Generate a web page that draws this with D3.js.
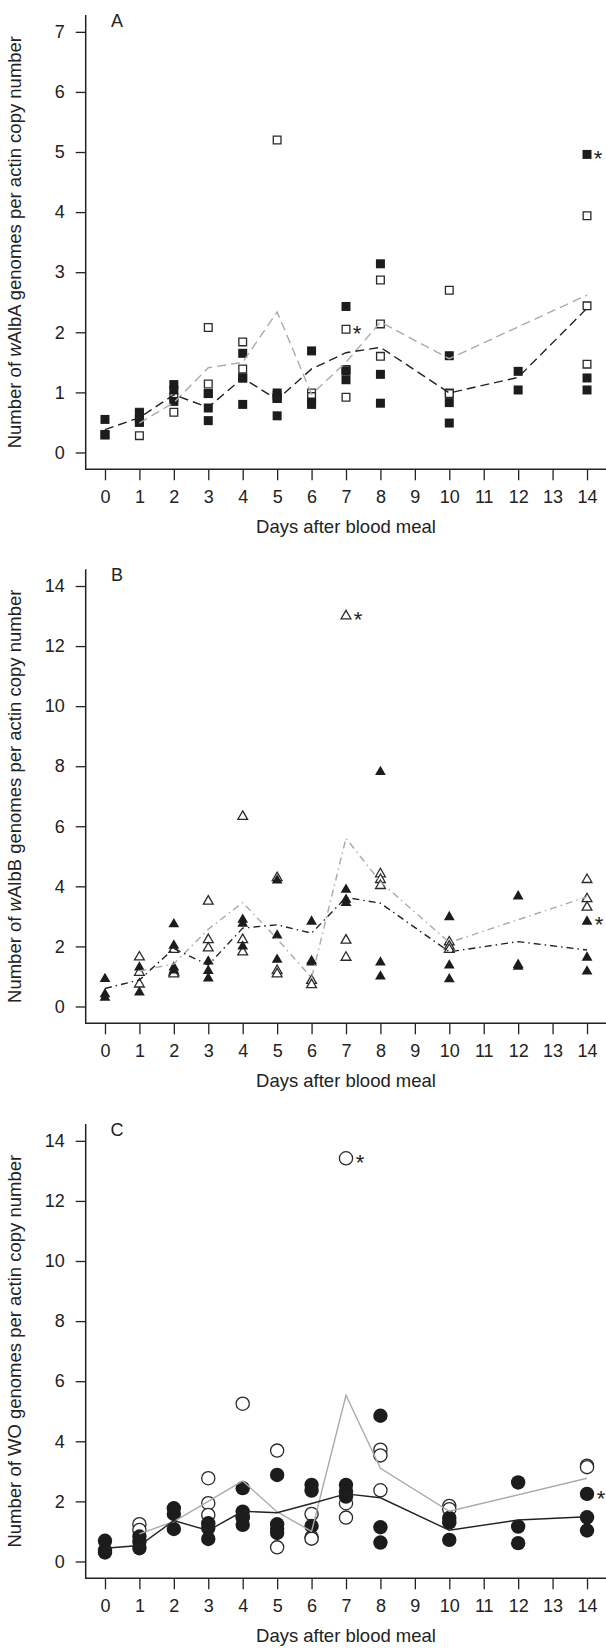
<!DOCTYPE html>
<html>
<head>
<meta charset="utf-8">
<script src="https://cdn.jsdelivr.net/npm/d3@7"></script>
<style>
  html, body { margin: 0; padding: 0; background: #fff; }
  svg { display: block; }
  text { font-family: "Liberation Sans", Arial, Helvetica, sans-serif; fill: #222; }
</style>
</head>
<body>
<script>
// ---- Data: genome copies per actin copy number, by day after blood meal ----
const dayTicks = d3.range(0, 15);
const yTicksA = [0, 1, 2, 3, 4, 5, 6, 7];
const yTicksBC = [0, 2, 4, 6, 8, 10, 12, 14];

// Panel A: wAlbA (squares)
const albAOpen = [
  [1, 0.67], [1, 0.52], [1, 0.28],
  [2, 0.92], [2, 0.67],
  [3, 2.08], [3, 1.14], [3, 0.98],
  [4, 1.84], [4, 1.39], [4, 1.24],
  [5, 5.20], [5, 0.95], [5, 0.90],
  [6, 0.99], [6, 0.93],
  [7, 2.05], [7, 1.38], [7, 0.92],
  [8, 2.87], [8, 2.14], [8, 1.60],
  [10, 2.70], [10, 0.99], [10, 0.98],
  [14, 3.94], [14, 2.44], [14, 1.47]
];
const albAFilled = [
  [0, 0.55], [0, 0.30], [0, 0.29],
  [1, 0.65], [1, 0.57], [1, 0.50],
  [2, 1.13], [2, 1.04], [2, 0.85],
  [3, 0.98], [3, 0.74], [3, 0.53],
  [4, 1.65], [4, 1.24], [4, 0.80],
  [5, 0.99], [5, 0.90], [5, 0.61],
  [6, 1.69], [6, 0.84], [6, 0.80],
  [7, 2.43], [7, 1.36], [7, 1.21],
  [8, 3.14], [8, 1.30], [8, 0.82],
  [10, 1.61], [10, 0.83], [10, 0.49],
  [12, 1.35], [12, 1.04],
  [14, 4.96], [14, 1.24], [14, 1.04]
];
const albAOpenMean = [[1, 0.49], [2, 0.83], [3, 1.41], [4, 1.50], [5, 2.34], [6, 0.97], [7, 1.50], [8, 2.17], [10, 1.56], [14, 2.62]];
const albAFilledMean = [[0, 0.38], [1, 0.58], [2, 0.96], [3, 0.75], [4, 1.24], [5, 0.88], [6, 1.39], [7, 1.66], [8, 1.75], [10, 0.99], [12, 1.25], [14, 2.40]];
const albAStars = [[7, 2.05, "open"], [14, 4.96, "filled"]];

// Panel B: wAlbB (triangles)
const albBOpen = [
  [1, 1.69], [1, 1.18], [1, 0.79],
  [2, 1.94], [2, 1.19], [2, 1.13],
  [3, 3.55], [3, 2.27], [3, 1.99],
  [4, 6.37], [4, 2.27], [4, 1.86],
  [5, 4.33], [5, 1.24], [5, 1.13],
  [6, 0.91], [6, 0.77],
  [7, 13.05], [7, 2.25], [7, 1.68],
  [8, 4.46], [8, 4.27], [8, 4.07],
  [10, 2.19], [10, 2.05], [10, 1.94],
  [14, 4.27], [14, 3.63], [14, 3.35]
];
const albBFilled = [
  [0, 0.97], [0, 0.46], [0, 0.35],
  [1, 1.35], [1, 0.52],
  [2, 2.79], [2, 2.08], [2, 1.35], [2, 1.25],
  [3, 1.55], [3, 1.24], [3, 0.99],
  [4, 2.94], [4, 2.81], [4, 2.05],
  [5, 4.25], [5, 2.42], [5, 1.61],
  [6, 2.88], [6, 1.57], [6, 1.52],
  [7, 3.94], [7, 3.61], [7, 3.50],
  [8, 7.86], [8, 1.52], [8, 1.05],
  [10, 3.03], [10, 1.42], [10, 0.96],
  [12, 3.72], [12, 1.44], [12, 1.38],
  [14, 2.88], [14, 1.68], [14, 1.22]
];
const albBOpenMean = [[1, 1.18], [2, 1.42], [3, 2.57], [4, 3.46], [5, 2.25], [6, 0.95], [7, 5.60], [8, 4.15], [10, 2.13], [14, 3.65]];
const albBFilledMean = [[0, 0.60], [1, 0.88], [2, 1.93], [3, 1.38], [4, 2.61], [5, 2.72], [6, 2.44], [7, 3.63], [8, 3.44], [10, 1.82], [12, 2.16], [14, 1.88]];
const albBStars = [[7, 13.05, "open"], [14, 2.88, "filled"]];

// Panel C: WO phage (circles)
const woOpen = [
  [1, 1.24], [1, 1.05],
  [3, 2.77], [3, 1.94], [3, 1.55],
  [4, 5.25], [4, 1.47],
  [5, 3.69], [5, 0.47],
  [6, 1.58], [6, 0.81], [6, 0.76],
  [7, 13.42], [7, 1.94], [7, 1.46],
  [8, 3.72], [8, 3.53], [8, 2.37],
  [10, 1.85], [10, 1.74],
  [14, 3.19], [14, 3.14]
];
const woFilled = [
  [0, 0.69], [0, 0.38], [0, 0.30],
  [1, 0.83], [1, 0.66], [1, 0.44],
  [2, 1.77], [2, 1.58], [2, 1.08],
  [3, 1.27], [3, 1.11], [3, 0.75],
  [4, 2.44], [4, 1.66], [4, 1.47], [4, 1.22],
  [5, 2.88], [5, 1.24], [5, 1.08], [5, 0.95],
  [6, 2.55], [6, 2.36], [6, 1.18],
  [7, 2.55], [7, 2.33], [7, 2.16],
  [8, 4.85], [8, 1.14], [8, 0.63],
  [10, 1.45], [10, 1.30], [10, 0.72],
  [12, 2.63], [12, 1.16], [12, 0.61],
  [14, 2.25], [14, 1.47], [14, 1.03]
];
const woOpenMean = [[1, 0.92], [2, 1.33], [3, 2.00], [4, 2.68], [5, 1.65], [6, 1.00], [7, 5.53], [8, 3.10], [10, 1.67], [14, 2.77]];
const woFilledMean = [[0, 0.44], [1, 0.53], [2, 1.36], [3, 1.03], [4, 1.67], [5, 1.62], [6, 1.93], [7, 2.25], [8, 2.12], [10, 1.04], [12, 1.38], [14, 1.49]];
const woStars = [[7, 13.42, "open"], [14, 2.25, "filled"]];

// ---- Layout ----
const W = 606, H = 1648;
const FS = 18;
const svg = d3.select("body").append("svg").attr("width", W).attr("height", H);

const x = d3.scaleLinear().domain([-0.56, 14.56]).range([85.7, 606.3]);

const panels = [
  { letter: "A", top: 15, bottom: 469.3, ymax: 7, yTicks: yTicksA, shape: "square",
    open: albAOpen, filled: albAFilled, openMean: albAOpenMean, filledMean: albAFilledMean,
    stars: albAStars, dash: "9,5", title: ["Number of ", "w", "AlbA genomes per actin copy number"] },
  { letter: "B", top: 569.2, bottom: 1023.3, ymax: 14, yTicks: yTicksBC, shape: "triangle",
    open: albBOpen, filled: albBFilled, openMean: albBOpenMean, filledMean: albBFilledMean,
    stars: albBStars, dash: "7,4,1.5,4", title: ["Number of ", "w", "AlbB genomes per actin copy number"] },
  { letter: "C", top: 1124, bottom: 1578.3, ymax: 14, yTicks: yTicksBC, shape: "circle",
    open: woOpen, filled: woFilled, openMean: woOpenMean, filledMean: woFilledMean,
    stars: woStars, dash: null, title: ["Number of WO genomes per actin copy number"] }
];

// Marker outlines, each centred on its own bounding box
function markerPath(shape, open) {
  if (shape === "square") {
    const s = open ? 7.7 : 9;
    const h = s / 2;
    return `M${-h},${-h}H${h}V${h}H${-h}Z`;
  }
  if (shape === "triangle") {
    const w = open ? 9.8 : 10.8, ht = w * 0.866;
    return `M0,${-ht / 2}L${w / 2},${ht / 2}L${-w / 2},${ht / 2}Z`;
  }
  const r = open ? 6.6 : 7.2;
  return `M${r},0A${r},${r} 0 1,1 ${-r},0A${r},${r} 0 1,1 ${r},0Z`;
}

const starGap = { square: 9.5, triangle: 10.5, circle: 12.5 };

panels.forEach(p => {
  const y = d3.scaleLinear()
    .domain([-0.04 * p.ymax, 1.04 * p.ymax])
    .range([p.bottom, p.top]);
  const g = svg.append("g");

  // L-shaped frame
  g.append("path")
    .attr("d", `M${x.range()[0]},${p.top}V${p.bottom}H${W}`)
    .attr("fill", "none").attr("stroke", "#222").attr("stroke-width", 1.5);

  // y axis
  const ya = g.append("g").attr("transform", `translate(${x.range()[0]},0)`)
    .call(d3.axisLeft(y).tickValues(p.yTicks).tickSize(10).tickPadding(11).tickFormat(d3.format("d")));
  ya.select(".domain").remove();
  ya.selectAll("line").attr("stroke", "#222").attr("stroke-width", 1.3);
  ya.selectAll("text").attr("font-size", FS).attr("fill", "#222")
    .style("font-family", "'Liberation Sans', Arial, Helvetica, sans-serif");

  // x axis
  const xa = g.append("g").attr("transform", `translate(0,${p.bottom})`)
    .call(d3.axisBottom(x).tickValues(dayTicks).tickSize(11).tickPadding(10).tickFormat(d3.format("d")));
  xa.select(".domain").remove();
  xa.selectAll("line").attr("stroke", "#222").attr("stroke-width", 1.3);
  xa.selectAll("text").attr("font-size", FS).attr("fill", "#222")
    .style("font-family", "'Liberation Sans', Arial, Helvetica, sans-serif");

  // axis titles
  g.append("text")
    .attr("x", (x.range()[0] + x.range()[1]) / 2).attr("y", p.bottom + 64)
    .attr("text-anchor", "middle").attr("font-size", 18.5)
    .text("Days after blood meal");

  const yt = g.append("text")
    .attr("transform", `translate(21,${(p.top + p.bottom) / 2}) rotate(-90)`)
    .attr("text-anchor", "middle").attr("font-size", 18.5);
  if (p.title.length === 3) {
    yt.append("tspan").text(p.title[0]);
    yt.append("tspan").attr("font-style", "italic").text(p.title[1]);
    yt.append("tspan").text(p.title[2]);
  } else {
    yt.text(p.title[0]);
  }

  // panel letter
  g.append("text").attr("x", 117).attr("y", p.top + 11.5)
    .attr("text-anchor", "middle").attr("font-size", 18).text(p.letter);

  // points: open first, filled drawn over them
  g.append("g").selectAll("path").data(p.open).join("path")
    .attr("d", markerPath(p.shape, true))
    .attr("transform", d => `translate(${x(d[0])},${y(d[1])})`)
    .attr("fill", "#fff").attr("stroke", "#2a2a2a").attr("stroke-width", 1.3);

  g.append("g").selectAll("path").data(p.filled).join("path")
    .attr("d", markerPath(p.shape, false))
    .attr("transform", d => `translate(${x(d[0])},${y(d[1])})`)
    .attr("fill", "#1c1c1c");

  // asterisks beside flagged samples
  g.append("g").selectAll("text").data(p.stars).join("text")
    .attr("x", d => x(d[0]) + starGap[p.shape] + 1.5)
    .attr("y", d => y(d[1]) + 12)
    .attr("text-anchor", "middle").attr("font-size", 22)
    .text("*");

  // mean lines
  const line = d3.line().x(d => x(d[0])).y(d => y(d[1]));
  g.append("path").datum(p.openMean).attr("d", line)
    .attr("fill", "none").attr("stroke", "#aaaaaa").attr("stroke-width", 1.4)
    .attr("stroke-dasharray", p.dash);
  g.append("path").datum(p.filledMean).attr("d", line)
    .attr("fill", "none").attr("stroke", "#222").attr("stroke-width", 1.4)
    .attr("stroke-dasharray", p.dash);
});
</script>
</body>
</html>
